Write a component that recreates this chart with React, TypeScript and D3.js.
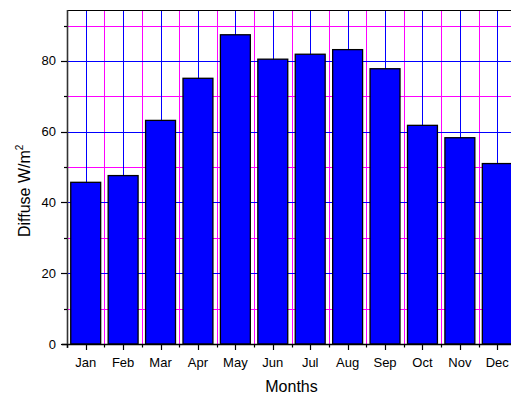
import React from "react";
import * as d3 from "d3";

const months = ["Jan", "Feb", "Mar", "Apr", "May", "Jun", "Jul", "Aug", "Sep", "Oct", "Nov", "Dec"];
const diffuse = [45.7, 47.6, 63.2, 75.1, 87.4, 80.5, 81.9, 83.2, 77.8, 61.8, 58.3, 51.0];
const majorTicks = [0, 20, 40, 60, 80];
const minorTicks = [10, 30, 50, 70, 90];

const W = 511;
const H = 396;
const left = 67;
const right = 516;
const top = 10;
const bottom = 344;

export default function App() {
  const x = d3.scaleBand<string>().domain(months).range([left, right]).paddingInner(0.2).paddingOuter(0.1);
  const y = d3.scaleLinear().domain([0, 94.4]).range([bottom, top]);
  const step = x.step();
  const bandStart = left;
  const boundaries = d3.range(months.length + 1).map((i) => bandStart + i * step);
  const center = (m: string) => (x(m) as number) + x.bandwidth() / 2;
  const font = "'Liberation Sans', Arial, sans-serif";
  const r = (v: number) => Math.round(v) + 0.5;

  return (
    <svg width={W} height={H} style={{ position: "absolute", left: 0, top: 0, background: "#fff" }} fontFamily={font}>
      {/* minor grid */}
      <g stroke="#ff00ff" strokeWidth={1}>
        {minorTicks.map((t) => (
          <line key={"mh" + t} x1={left} x2={W} y1={r(y(t))} y2={r(y(t))} />
        ))}
        {boundaries.slice(1).map((b, i) => (
          <line key={"mv" + i} x1={r(b)} x2={r(b)} y1={top} y2={bottom} />
        ))}
      </g>
      {/* major grid */}
      <g stroke="#0000ff" strokeWidth={1}>
        {majorTicks.slice(1).map((t) => (
          <line key={"gh" + t} x1={left} x2={W} y1={r(y(t))} y2={r(y(t))} />
        ))}
        {months.map((m) => (
          <line key={"gv" + m} x1={r(center(m))} x2={r(center(m))} y1={top} y2={bottom} />
        ))}
      </g>
      {/* bars */}
      <g fill="#0000ff" stroke="#000" strokeWidth={1.3}>
        {months.map((m, i) => (
          <rect
            key={m}
            x={x(m) as number}
            y={y(diffuse[i])}
            width={x.bandwidth()}
            height={bottom - y(diffuse[i])}
          />
        ))}
      </g>
      {/* frame */}
      <line x1={left} x2={W} y1={top + 0.5} y2={top + 0.5} stroke="#000" strokeWidth={1.2} />
      <line x1={left - 5} x2={W} y1={bottom + 0.5} y2={bottom + 0.5} stroke="#000" strokeWidth={1.3} />
      <line x1={left + 0.5} x2={left + 0.5} y1={top} y2={bottom + 4} stroke="#333" strokeWidth={1.6} />
      {/* y ticks */}
      <g stroke="#000" strokeWidth={1.2}>
        {majorTicks.map((t) => (
          <line key={"yt" + t} x1={left - 6} x2={left} y1={r(y(t))} y2={r(y(t))} />
        ))}
        {minorTicks.map((t) => (
          <line key={"ym" + t} x1={left - 3} x2={left} y1={r(y(t))} y2={r(y(t))} />
        ))}
        {months.map((m) => (
          <line key={"xt" + m} x1={r(center(m))} x2={r(center(m))} y1={bottom} y2={bottom + 6} />
        ))}
        {boundaries.map((b, i) => (
          <line key={"xm" + i} x1={r(b)} x2={r(b)} y1={bottom} y2={bottom + 3.5} />
        ))}
      </g>
      <g fontSize={13} fill="#000" textAnchor="end">
        {majorTicks.map((t) => (
          <text key={"yl" + t} x={56} y={y(t)} dy="0.35em">
            {t}
          </text>
        ))}
      </g>
      <g fontSize={13} fill="#000" textAnchor="middle">
        {months.map((m) => (
          <text key={"xl" + m} x={center(m)} y={366.5}>
            {m}
          </text>
        ))}
      </g>
      <text x={(left + right) / 2} y={392} fontSize={16} textAnchor="middle" fill="#000">
        Months
      </text>
      <text transform="translate(30,237) rotate(-90)" fontSize={16} textAnchor="start" fill="#000">
        Diffuse W/m
        <tspan fontSize={10} dy={-7}>
          2
        </tspan>
      </text>
    </svg>
  );
}
